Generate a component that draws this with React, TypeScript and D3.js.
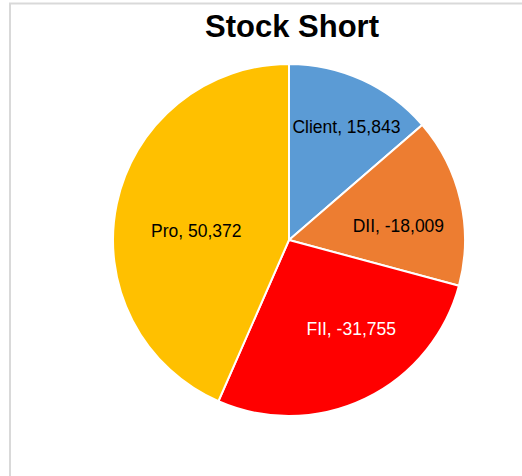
import React from "react";
import * as d3 from "d3";

const categories = ["Client", "DII", "FII", "Pro"];
const values = [15843, -18009, -31755, 50372];
const colors = ["#5B9BD5", "#ED7D31", "#FF0000", "#FFC000"];
const labelColors = ["#000000", "#000000", "#FFFFFF", "#000000"];
const labelOffsets: [number, number][] = [[12, -14], [3, 10], [15, -10], [14, 13]];
const title = "Stock Short";

const W = 522;
const H = 476;
const cx = 289;
const cy = 240;
const R = 176;

export default function App() {
  const data = categories.map((c, i) => ({ name: c, value: values[i], i }));
  const pie = d3
    .pie<any>()
    .sort(null)
    .value((d) => Math.abs(d.value))
    .startAngle(0)
    .endAngle(2 * Math.PI);
  const arcs = pie(data);
  const arc = d3.arc<any>().innerRadius(0).outerRadius(R);
  const labelArc = d3.arc<any>().innerRadius(R * 0.62).outerRadius(R * 0.62);
  const fmt = d3
    .formatLocale({ decimal: ".", thousands: ",", grouping: [3], currency: ["", ""], minus: "-" })
    .format(",");
  return (
    <svg
      width={W}
      height={H}
      style={{ position: "absolute", left: 0, top: 0, background: "#fff" }}
    >
      <rect x={10} y={3.5} width={700} height={700} fill="#fff" stroke="#d9d9d9" strokeWidth={2} />
      <text
        x={292}
        y={37}
        textAnchor="middle"
        fontFamily="Liberation Sans, Arial, sans-serif"
        fontWeight="bold"
        fontSize={31}
        fill="#000"
      >
        {title}
      </text>
      <g transform={`translate(${cx},${cy})`}>
        {arcs.map((a, i) => (
          <path key={i} d={arc(a) as string} fill={colors[i]} stroke="#fff" strokeWidth={2} />
        ))}
        {arcs.map((a, i) => {
          const [x, y] = labelArc.centroid(a);
          return (
            <text
              key={"l" + i}
              x={x + labelOffsets[i][0]}
              y={y + labelOffsets[i][1]}
              dy="0.35em"
              textAnchor="middle"
              fontFamily="Liberation Sans, Arial, sans-serif"
              fontSize={17.5}
              fill={labelColors[i]}
            >
              {`${a.data.name}, ${fmt(a.data.value)}`}
            </text>
          );
        })}
      </g>
    </svg>
  );
}
